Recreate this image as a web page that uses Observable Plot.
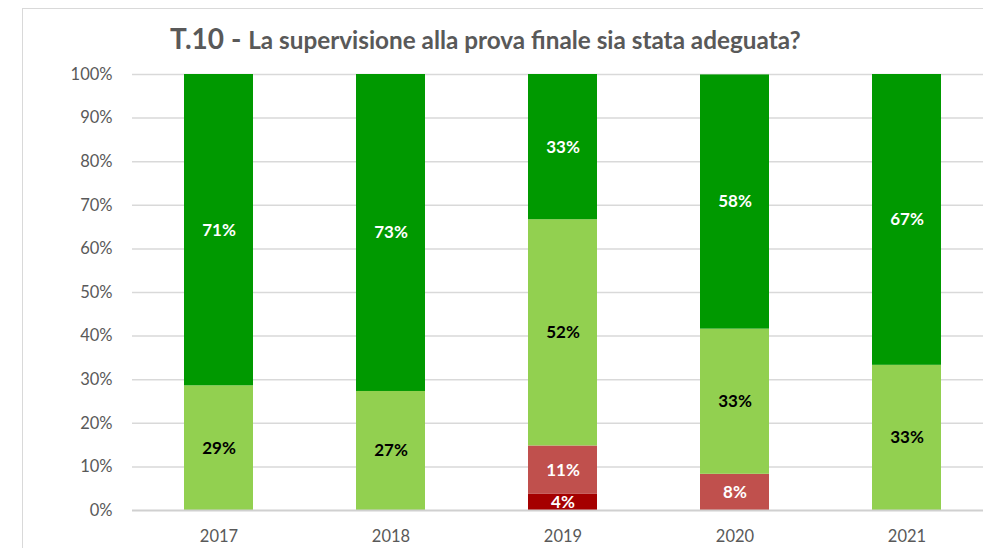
<!DOCTYPE html>
<html>
<head>
<meta charset="utf-8">
<script src="https://cdn.jsdelivr.net/npm/d3@7"></script>
<script src="https://cdn.jsdelivr.net/npm/@observablehq/plot@0.6"></script>
<style>
  html, body { margin: 0; padding: 0; background: #fff; overflow: hidden; }
  #wrap { position: relative; width: 983px; height: 548px; overflow: hidden; }
  #frame { position: absolute; left: 22px; top: 8px; width: 980px; height: 560px; border: 1px solid #d9d9d9; box-sizing: border-box; }
  #title { position: absolute; left: 170px; top: 20px; white-space: nowrap; font-family: Lato, sans-serif; font-weight: bold; color: #595959; line-height: 36px; }
  #title .big { font-size: 28px; }
  #title .small { font-size: 24.3px; }
  #chart { position: absolute; left: 0; top: 0; width: 992px; }
  #chart svg { max-width: none !important; }
</style>
</head>
<body>
<div id="wrap">
  <div id="frame"></div>
  <div id="chart"></div>
  <div id="title"><span class="big">T.10 - </span><span class="small">La supervisione alla prova finale sia stata adeguata?</span></div>
</div>
<script>
const years = ["2017", "2018", "2019", "2020", "2021"];
const categories = ["Per niente", "Poco", "Abbastanza", "Molto"];
const perNiente = [0, 0, 3.7, 0, 0];
const poco = [0, 0, 11.1, 8.3, 0];
const abbastanza = [28.6, 27.3, 51.9, 33.3, 33.3];
const molto = [71.4, 72.7, 33.3, 58.3, 66.7];
const colors = ["#a50000", "#c0504d", "#92d050", "#009900"];
const labelColors = ["#ffffff", "#ffffff", "#000000", "#ffffff"];
const yTicks = [0, 10, 20, 30, 40, 50, 60, 70, 80, 90, 100];

const seriesValues = [perNiente, poco, abbastanza, molto];
const data = [];
categories.forEach((c, ci) => {
  years.forEach((y, yi) => {
    data.push({year: y, cat: c, value: seriesValues[ci][yi], label: Math.round(seriesValues[ci][yi]) + "%", lc: labelColors[ci]});
  });
});

const chart = Plot.plot({
  width: 992,
  height: 548,
  marginTop: 74,
  marginBottom: 38,
  marginLeft: 132,
  marginRight: 0,
  style: {fontFamily: "Lato, sans-serif", fontSize: "16.5px", color: "#595959", background: "transparent", maxWidth: "none"},
  x: {domain: years, paddingInner: 0.6, paddingOuter: 0.3, label: null, tickSize: 0, tickPadding: 20},
  y: {domain: [0, 100], ticks: yTicks, tickFormat: d => d + "%", label: null, tickSize: 0, tickPadding: 20},
  color: {domain: categories, range: colors},
  marks: [
    Plot.ruleY(yTicks.filter(d => d > 0), {stroke: "#d9d9d9", strokeWidth: 1.5}),
    Plot.barY(data, Plot.stackY({x: "year", y: "value", fill: "cat", order: categories})),
    Plot.ruleY([0], {stroke: "#d0d0d0", strokeWidth: 2}),
    Plot.text(data.filter(d => d.value > 0), Plot.stackY({x: "year", y: "value", z: "cat", order: categories, text: "label", fill: "lc", fontWeight: "bold", fontSize: 17})),
  ]
});
document.getElementById("chart").appendChild(chart);
</script>
</body>
</html>
